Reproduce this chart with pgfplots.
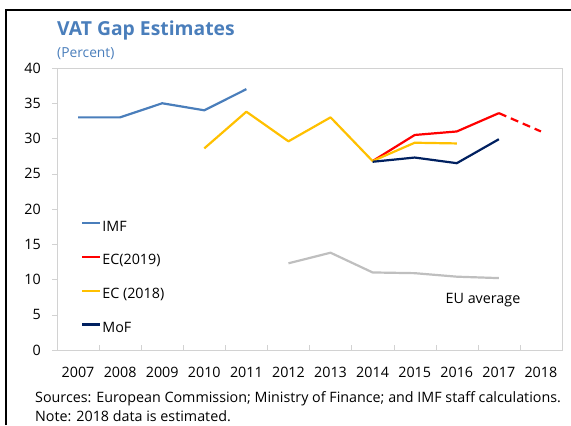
\documentclass[border=0pt]{standalone}
\usepackage{fontspec}
\setmainfont{Open Sans}
\usepackage{pgfplots}
\pgfplotsset{compat=1.18}

\definecolor{imfblue}{RGB}{74,126,187}
\definecolor{titleblue}{RGB}{74,126,187}
\definecolor{ecred}{RGB}{255,0,0}
\definecolor{ecgold}{RGB}{255,192,0}
\definecolor{mofnavy}{RGB}{0,32,96}
\definecolor{eugray}{RGB}{191,191,191}
\definecolor{framegray}{RGB}{210,210,210}

\begin{document}
\begin{tikzpicture}
\begin{axis}[
    name=ax,
    width=505bp, height=282bp,
    scale only axis,
    xmin=2006.5, xmax=2018.5,
    ymin=0, ymax=40,
    xtick={2007,...,2018},
    ytick={0,5,...,40},
    minor xtick={2007.5,2008.5,...,2017.5},
    xtick pos=bottom, ytick pos=left,
    tick align=outside,
    major tick length=5bp,
    minor tick length=5bp,
    major x tick style={draw=none},
    minor x tick style={draw=framegray, yshift=5bp},
    y tick style={draw=framegray},
    axis line style={draw=framegray},
    /pgf/number format/1000 sep={},
    /pgf/number format/assume math mode=true,
    xticklabel style={font=\fontsize{14.3bp}{16bp}\selectfont, anchor=base, inner sep=0pt, yshift=-22bp},
    yticklabel style={font=\fontsize{14.3bp}{16bp}\selectfont, anchor=east, inner sep=0pt, xshift=-11bp},
    legend cell align=left,
    legend style={at={(0.0475,0.458)}, anchor=north west, draw=none, fill=none,
        inner sep=0pt, row sep=20.8bp, column sep=1bp,
        nodes={inner sep=0pt, text height=10bp, text depth=3bp,
               font=\fontsize{14.3bp}{16bp}\selectfont}},
    legend image code/.code={\draw[#1] (0bp,4.5bp) -- (18bp,4.5bp);},
    every axis plot/.append style={line width=2.2bp, line join=round},
]
% EU average (labelled by text)
\addplot[eugray, forget plot] coordinates {
    (2012,12.3) (2013,13.8) (2014,11.0) (2015,10.9) (2016,10.4) (2017,10.2)
};
\addplot[imfblue] coordinates {
    (2007,33.0) (2008,33.0) (2009,35.0) (2010,34.0) (2011,37.0)
};
\addlegendentry{IMF}
\addplot[ecred] coordinates {
    (2014,26.8) (2015,30.5) (2016,31.0) (2017,33.6)
};
\addlegendentry{EC(2019)}
\addplot[ecred, dashed, dash pattern=on 8bp off 5bp, forget plot] coordinates {
    (2017,33.6) (2018,31.0)
};
\addplot[ecgold] coordinates {
    (2010,28.6) (2011,33.8) (2012,29.6) (2013,33.0) (2014,26.8) (2015,29.4) (2016,29.3)
};
\addlegendentry{EC (2018)}
\addplot[mofnavy] coordinates {
    (2014,26.7) (2015,27.3) (2016,26.5) (2017,29.9)
};
\addlegendentry{MoF}
\end{axis}
% pixel frame: (57,350) is the lower left corner of the axis
\begin{scope}[shift={(ax.south west)}, xshift=-57bp, yshift=350bp, x=1bp, y=-1bp]
  \draw[black, line width=2bp] (6,425) -- (6,10) -- (571,10);
  \node[anchor=base west, inner sep=0pt, text=titleblue,
        font=\fontsize{19.3bp}{22bp}\selectfont\bfseries] at (57,35) {VAT Gap Estimates};
  \node[anchor=base west, inner sep=0pt, text=titleblue,
        font=\fontsize{13.8bp}{16bp}\selectfont] at (57,57) {(Percent)};
  \node[anchor=center, inner sep=0pt,
        font=\fontsize{14.3bp}{16bp}\selectfont] at (483,300) {EU average};
  \node[anchor=base west, inner sep=0pt,
        font=\fontsize{14.3bp}{16bp}\selectfont] at (35,402)
        {Sources: European Commission; Ministry of Finance; and IMF staff calculations.};
  \node[anchor=base west, inner sep=0pt,
        font=\fontsize{14.3bp}{16bp}\selectfont] at (35,421)
        {Note: 2018 data is estimated.};
  \pgfresetboundingbox
  \path[use as bounding box] (0,0) rectangle (571,425);
\end{scope}
\end{tikzpicture}
\end{document}
